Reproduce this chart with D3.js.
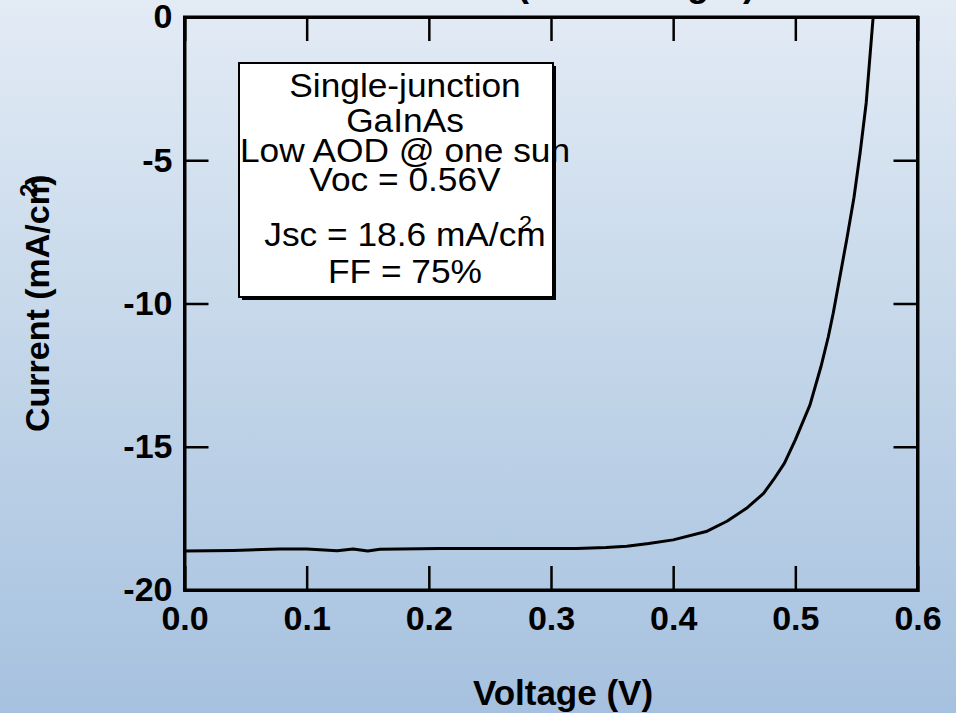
<!DOCTYPE html>
<html>
<head>
<meta charset="utf-8">
<script src="https://cdn.jsdelivr.net/npm/d3@7"></script>
<style>
  html, body { margin: 0; padding: 0; background: #fff; }
  svg { display: block; }
  text { font-family: "Liberation Sans", Arial, Helvetica, sans-serif; }
</style>
</head>
<body>
<svg id="chart" width="956" height="713"></svg>
<script>
// ---- data ----
const voltage = [0.000, 0.040, 0.078, 0.100, 0.125, 0.138, 0.150, 0.160, 0.209, 0.260, 0.321, 0.345, 0.362, 0.380, 0.400, 0.427, 0.444, 0.460, 0.474, 0.482, 0.491, 0.500, 0.512, 0.521, 0.527, 0.531, 0.536, 0.542, 0.548, 0.553, 0.558, 0.5637];
const current = [-18.64, -18.62, -18.57, -18.57, -18.63, -18.57, -18.64, -18.58, -18.55, -18.55, -18.55, -18.52, -18.47, -18.38, -18.25, -17.96, -17.60, -17.15, -16.63, -16.16, -15.58, -14.76, -13.54, -12.20, -11.16, -10.34, -9.18, -7.78, -6.30, -4.75, -3.00, 0.00];
const xTicks = [0.0, 0.1, 0.2, 0.3, 0.4, 0.5, 0.6];
const xTickLabels = ["0.0", "0.1", "0.2", "0.3", "0.4", "0.5", "0.6"];
const yTicks = [0, -5, -10, -15, -20];
const yTickLabels = ["0", "-5", "-10", "-15", "-20"];
const legendLines = ["Single-junction", "GaInAs", "Low AOD @ one sun", "Voc = 0.56V", "Jsc = 18.6 mA/cm", "FF = 75%"];
const titleText = "GaInAs (dim sunlight)";
const xTitle = "Voltage (V)";
const yTitle = "Current (mA/cm";

// ---- layout ----
const W = 956, H = 713;
const L = 184.5, R = 917.5, T = 17, B = 590;
const svg = d3.select("#chart");

// background gradient
const defs = svg.append("defs");
const grad = defs.append("linearGradient").attr("id", "bg").attr("x1", 0).attr("y1", 0).attr("x2", 0).attr("y2", 1);
grad.append("stop").attr("offset", "0%").attr("stop-color", "#e3ebf5");
grad.append("stop").attr("offset", "45%").attr("stop-color", "#c6d8ea");
grad.append("stop").attr("offset", "100%").attr("stop-color", "#a6c1df");
svg.append("rect").attr("width", W).attr("height", H).attr("fill", "url(#bg)");

const x = d3.scaleLinear().domain([0, 0.6]).range([L, R]);
const y = d3.scaleLinear().domain([-20, 0]).range([B, T]);

// title (mostly cut off at top)
svg.append("text").attr("x", 755).attr("y", -4).attr("text-anchor", "end")
  .attr("font-size", 36).attr("font-weight", "bold").attr("fill", "#000").text(titleText);

// axes
const tickLen = 24;
const fmtX = d => xTickLabels[xTicks.indexOf(d)];
const fmtY = d => yTickLabels[yTicks.indexOf(d)];

const gx = svg.append("g").attr("transform", `translate(0,${B})`)
  .call(d3.axisBottom(x).tickValues(xTicks).tickSize(-tickLen).tickPadding(16).tickFormat(fmtX));
const gxt = svg.append("g").attr("transform", `translate(0,${T})`)
  .call(d3.axisTop(x).tickValues(xTicks.slice(1, -1)).tickSize(-tickLen).tickFormat(""));
const gy = svg.append("g").attr("transform", `translate(${L},0)`)
  .call(d3.axisLeft(y).tickValues(yTicks).tickSize(-tickLen).tickPadding(12).tickFormat(fmtY));
const gyr = svg.append("g").attr("transform", `translate(${R},0)`)
  .call(d3.axisRight(y).tickValues(yTicks.slice(1, -1)).tickSize(-tickLen).tickFormat(""));

[gx, gxt, gy, gyr].forEach(g => {
  g.select(".domain").attr("stroke", "#000").attr("stroke-width", 3);
  g.selectAll(".tick line").attr("stroke", "#000").attr("stroke-width", 2.5);
  g.selectAll(".tick text").attr("fill", "#000").attr("font-size", 34).attr("font-weight", "bold")
    .attr("font-family", "'Liberation Sans', Arial, sans-serif");
});
gx.selectAll(".tick line").filter(d => d === 0 || d === 0.6).remove();
gy.selectAll(".tick line").filter(d => d === 0 || d === -20).remove();

// frame
svg.append("rect").attr("x", L).attr("y", T).attr("width", R - L).attr("height", B - T)
  .attr("fill", "none").attr("stroke", "#000").attr("stroke-width", 3);

// curve
const line = d3.line().x((d, i) => x(voltage[i])).y((d, i) => y(current[i]));
svg.append("path").datum(current).attr("d", line)
  .attr("fill", "none").attr("stroke", "#000").attr("stroke-width", 3).attr("stroke-linejoin", "round");

// legend box
const bx = 239, by = 63, bw = 314, bh = 234;
svg.append("rect").attr("x", bx + 3).attr("y", by + 3).attr("width", bw).attr("height", bh).attr("fill", "#000");
svg.append("rect").attr("x", bx).attr("y", by).attr("width", bw).attr("height", bh)
  .attr("fill", "#fff").attr("stroke", "#000").attr("stroke-width", 2);
const baselines = [97, 132, 162, 191, 246, 283];
const cx = 405;
const sx = 1.07;
const lg = svg.append("g").attr("transform", `translate(${cx},0) scale(${sx},1)`);
let jscNode = null;
legendLines.forEach((t, i) => {
  const tn = lg.append("text").attr("x", 0).attr("y", baselines[i]).attr("text-anchor", "middle")
    .attr("font-size", 33).attr("fill", "#000").text(t);
  if (i === 4) jscNode = tn;
});
// superscript 2 of cm^2 (overlapping as in reference)
{
  const len = jscNode.node().getComputedTextLength();
  lg.append("text").attr("x", len / 2 - 25).attr("y", 231)
    .attr("font-size", 22).attr("fill", "#000").text("2");
}

// axis titles
svg.append("text").attr("x", 563).attr("y", 705).attr("text-anchor", "middle")
  .attr("font-size", 35).attr("font-weight", "bold").attr("fill", "#000").text(xTitle);

const yt = svg.append("text").attr("transform", "translate(49,432) rotate(-90)")
  .attr("font-size", 34).attr("font-weight", "bold").attr("fill", "#000");
yt.append("tspan").text(yTitle);
yt.append("tspan").attr("dx", -22).attr("dy", -12).attr("font-size", 24).text("2");
yt.append("tspan").attr("dx", -2).attr("dy", 12).text(")");
</script>
</body>
</html>
